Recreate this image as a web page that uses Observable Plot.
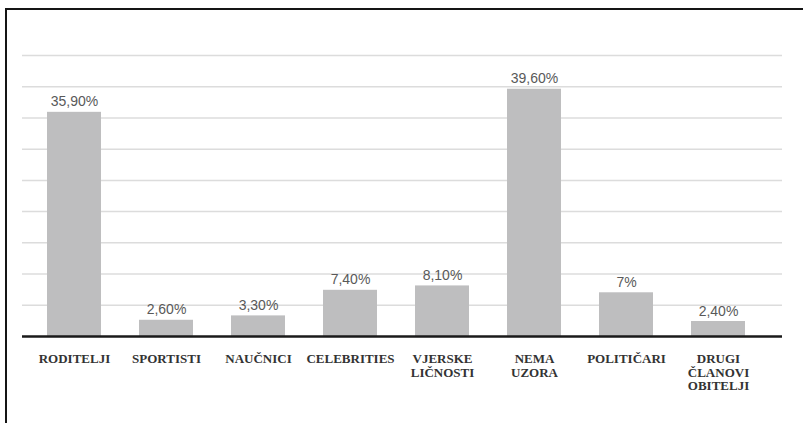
<!DOCTYPE html>
<html>
<head>
<meta charset="utf-8">
<script src="https://cdn.jsdelivr.net/npm/d3@7"></script>
<script src="https://cdn.jsdelivr.net/npm/@observablehq/plot@0.6"></script>
<style>
  html, body { margin: 0; padding: 0; background: #fff; width: 803px; height: 423px; overflow: hidden; }
  #frame { position: absolute; left: 5px; top: 8px; width: 800px; height: 420px;
           border-top: 2px solid #151515; border-left: 2px solid #151515; }
  #chart { position: absolute; left: 0; top: 0; }
</style>
</head>
<body>
<div id="frame"></div>
<div id="chart"></div>
<script>
const categories = ["RODITELJI", "SPORTISTI", "NAUČNICI", "CELEBRITIES", "VJERSKE\nLIČNOSTI", "NEMA\nUZORA", "POLITIČARI", "DRUGI\nČLANOVI\nOBITELJI"];
const values = [35.9, 2.6, 3.3, 7.4, 8.1, 39.6, 7, 2.4];
const valueLabels = ["35,90%", "2,60%", "3,30%", "7,40%", "8,10%", "39,60%", "7%", "2,40%"];
const gridTicks = [5, 10, 15, 20, 25, 30, 35, 40, 45];

const data = categories.map((c, i) => ({cat: c, value: values[i], label: valueLabels[i]}));

const chart = Plot.plot({
  width: 803,
  height: 423,
  marginLeft: 22,
  marginRight: 21,
  marginTop: 55,
  marginBottom: 87,
  style: {background: "transparent", overflow: "visible"},
  x: {domain: categories, range: [7, 784], padding: 0.415},
  y: {domain: [0, 45], axis: null},
  marks: [
    Plot.ruleY(gridTicks, {stroke: "#dcdcdc", strokeWidth: 1.5}),
    Plot.barY(data, {x: "cat", y: "value", fill: "#bebebf"}),
    Plot.text(data, {x: "cat", y: "value", text: "label", dy: -6, lineAnchor: "bottom",
      fontFamily: "Liberation Sans, Arial, sans-serif", fontSize: 14, fill: "#595959"}),
    Plot.ruleY([0], {stroke: "#1a1a1a", strokeWidth: 2.5}),
    Plot.axisX({tickSize: 0, tickPadding: 17, lineAnchor: "top", lineHeight: 1.05,
      fontFamily: "Liberation Serif, Times New Roman, serif", fontWeight: "bold",
      fontSize: 13, fill: "#333", label: null}),
  ]
});
document.getElementById("chart").appendChild(chart);
</script>
</body>
</html>
